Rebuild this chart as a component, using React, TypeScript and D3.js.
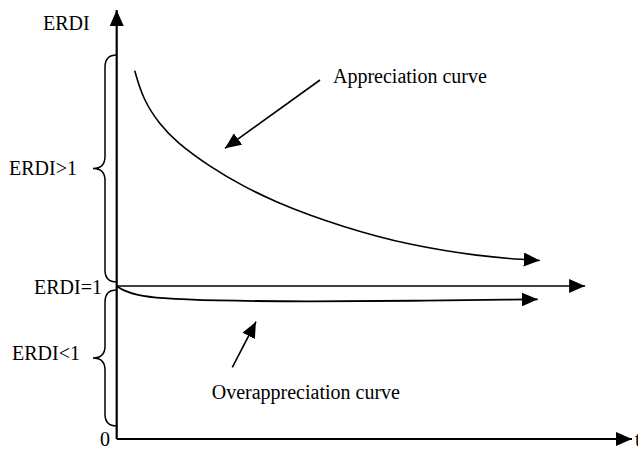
import React, { useEffect } from "react";
import * as d3 from "d3";

// Appreciation curve (t, ERDI)
const appreciationT = [0.35, 0.51, 0.835, 1.16, 1.806, 2.452, 3.1, 3.75, 4.39, 5.04, 5.69, 6.34, 6.98, 7.63, 8.21];
const appreciationE = [2.407, 2.22, 2.055, 1.94, 1.78, 1.652, 1.548, 1.462, 1.39, 1.325, 1.272, 1.232, 1.2, 1.178, 1.167];

// Overappreciation curve (t, ERDI)
const overT = [0, 0.12, 0.38, 0.835, 1.806, 3.75, 5.69, 7.88, 8.17];
const overE = [1.0, 0.972, 0.941, 0.92, 0.904, 0.898, 0.903, 0.912, 0.913];

// ERDI = 1 reference line
const parityT = [0, 9.09];
const parityE = [1, 1];

// Axis extents
const tMax = 10;
const eMax = 2.804;

// Brace ranges (ERDI units)
const braceRanges = [
  { label: "ERDI>1", from: 1.026, to: 2.51 },
  { label: "ERDI<1", from: 0.085, to: 0.974 },
];

const W = 638;
const H = 449;

export default function App() {
  useEffect(() => {
    document.body.style.margin = "0";
  }, []);

  const x = d3.scaleLinear().domain([0, tMax]).range([116.7, 632]);
  const y = d3.scaleLinear().domain([0, 1]).range([439, 286]);

  const line = d3
    .line<[number, number]>()
    .x((d) => x(d[0]))
    .y((d) => y(d[1]))
    .curve(d3.curveBasis);

  const straight = d3
    .line<[number, number]>()
    .x((d) => x(d[0]))
    .y((d) => y(d[1]));

  const appPts = appreciationT.map((t, i) => [t, appreciationE[i]] as [number, number]);
  const overPts = overT.map((t, i) => [t, overE[i]] as [number, number]);
  const parityPts = parityT.map((t, i) => [t, parityE[i]] as [number, number]);

  const ax = x(0);
  const bx = ax - 11.7;
  const tipX = ax - 23.7;
  const r = 12;
  const bracePath = (from: number, to: number) => {
    const yt = y(to);
    const yb = y(from);
    const mid = (yt + yb) / 2;
    return `M${ax},${yt} Q${bx},${yt} ${bx},${yt + r} L${bx},${mid - r} Q${bx},${mid} ${tipX},${mid} Q${bx},${mid} ${bx},${mid + r} L${bx},${yb - r} Q${bx},${yb} ${ax},${yb}`;
  };

  const font = "'Liberation Serif', 'Times New Roman', serif";
  const fs = 20;

  return (
    <svg
      width={W}
      height={H}
      style={{ position: "absolute", left: 0, top: 0, display: "block", background: "#fff" }}
    >
      <defs>
        <marker
          id="ah"
          markerUnits="userSpaceOnUse"
          markerWidth={16}
          markerHeight={14}
          refX={16}
          refY={7}
          orient="auto"
          viewBox="0 0 16 14"
        >
          <path d="M0,0 L16,7 L0,14 Z" fill="#000" />
        </marker>
      </defs>

      {/* Axes */}
      <line x1={ax} y1={y(0)} x2={ax} y2={y(eMax)} stroke="#000" strokeWidth={2.2} markerEnd="url(#ah)" />
      <line x1={ax} y1={y(0)} x2={x(tMax)} y2={y(0)} stroke="#000" strokeWidth={2.2} markerEnd="url(#ah)" />

      {/* ERDI = 1 line */}
      <path d={straight(parityPts) || ""} fill="none" stroke="#000" strokeWidth={1.6} markerEnd="url(#ah)" />

      {/* Curves */}
      <path d={line(appPts) || ""} fill="none" stroke="#000" strokeWidth={1.6} markerEnd="url(#ah)" />
      <path d={line(overPts) || ""} fill="none" stroke="#000" strokeWidth={1.8} markerEnd="url(#ah)" />

      {/* Braces */}
      {braceRanges.map((b) => (
        <path key={b.label} d={bracePath(b.from, b.to)} fill="none" stroke="#000" strokeWidth={1.5} />
      ))}

      {/* Annotation arrows */}
      <line x1={320} y1={80} x2={225} y2={148.3} stroke="#000" strokeWidth={1.6} markerEnd="url(#ah)" />
      <line x1={232.3} y1={367.3} x2={256} y2={321.7} stroke="#000" strokeWidth={1.6} markerEnd="url(#ah)" />

      {/* Labels */}
      <g fontFamily={font} fontSize={fs} fill="#000">
        <text x={43} y={29.5}>ERDI</text>
        <text x={77} y={175} textAnchor="end">ERDI&gt;1</text>
        <text x={102} y={293.5} textAnchor="end">ERDI=1</text>
        <text x={80} y={360} textAnchor="end">ERDI&lt;1</text>
        <text x={110} y={445.5} textAnchor="end">0</text>
        <text x={635} y={445.5}>t</text>
        <text x={333} y={83}>Appreciation curve</text>
        <text x={211.7} y={399.3}>Overappreciation curve</text>
      </g>
    </svg>
  );
}
